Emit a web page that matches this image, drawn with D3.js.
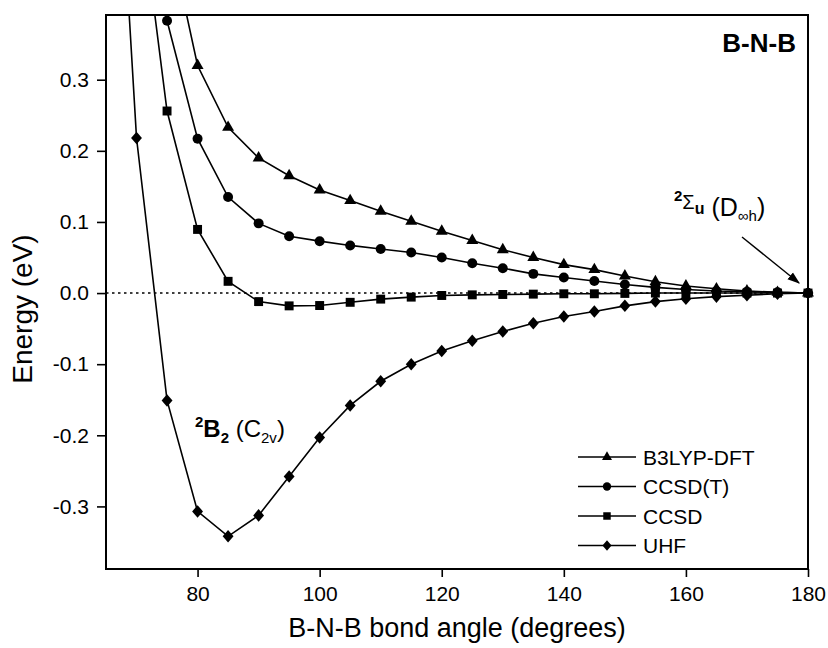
<!DOCTYPE html>
<html lang="en">
<head>
  <meta charset="UTF-8">
  <title>B-N-B bending potential</title>
  <style>
    body { margin: 0; background: #fff; }
    svg text { font-family: "Liberation Sans", Arial, sans-serif; fill: #000; }
    .curve { fill: none; stroke: #000; stroke-width: 1.6; }
  </style>
</head>
<body>
  <svg id="chart"></svg>

  <script src="https://d3js.org/d3.v7.min.js"></script>
  <script>
    // bond angles (degrees)
    const angles = [65, 70, 75, 80, 85, 90, 95, 100, 105, 110, 115, 120, 125, 130,
                    135, 140, 145, 150, 155, 160, 165, 170, 175, 180];

    // energies relative to the linear geometry (eV); null = not computed
    const b3lyp = [null, null, 0.518, 0.320, 0.233, 0.190, 0.165, 0.145, 0.130, 0.115, 0.101, 0.087,
                   0.074, 0.061, 0.050, 0.040, 0.033, 0.024, 0.016, 0.010, 0.006, 0.003, 0.001, 0];
    const ccsdT = [null, null, 0.383, 0.217, 0.135, 0.098, 0.080, 0.073, 0.067, 0.062, 0.057, 0.050,
                   0.042, 0.035, 0.027, 0.022, 0.017, 0.012, 0.008, 0.005, 0.003, 0.002, 0.001, 0];
    const ccsd  = [null, 0.594, 0.256, 0.0895, 0.0165, -0.012, -0.018, -0.0175, -0.013, -0.0085, -0.0057, -0.0034,
                   -0.0025, -0.002, -0.0015, -0.001, -0.001, -0.0005, 0, 0, 0, 0, 0, 0];
    const uhf   = [0.94, 0.218, -0.151, -0.307, -0.342, -0.3126, -0.258, -0.203, -0.158, -0.124, -0.100, -0.0816,
                   -0.067, -0.054, -0.0425, -0.033, -0.026, -0.018, -0.012, -0.008, -0.005, -0.003, -0.001, 0];

    const seriesNames = ["B3LYP-DFT", "CCSD(T)", "CCSD", "UHF"];
    const xTicks = [80, 100, 120, 140, 160, 180];
    const yTicks = [-0.3, -0.2, -0.1, 0.0, 0.1, 0.2, 0.3];

    const W = 828, H = 648;
    const m = { left: 106, top: 15, right: 20, bottom: 79 };
    const iw = W - m.left - m.right, ih = H - m.top - m.bottom;

    const svg = d3.select("#chart").attr("width", W).attr("height", H);
    const g = svg.append("g").attr("transform", `translate(${m.left},${m.top})`);

    const x = d3.scaleLinear().domain([65, 180]).range([0, iw]);
    const y = d3.scaleLinear().domain([-0.388, 0.391]).range([ih, 0]);

    // diamond a bit wider than d3's built-in one
    const diamond = {
      draw(ctx, size) {
        const w = Math.sqrt(size / 2.3), h = w * 1.15;
        ctx.moveTo(0, -h); ctx.lineTo(w, 0); ctx.lineTo(0, h); ctx.lineTo(-w, 0); ctx.closePath();
      }
    };
    const symbols = [
      { type: d3.symbolTriangle, size: 62 },
      { type: d3.symbolCircle, size: 78 },
      { type: d3.symbolSquare, size: 80 },
      { type: diamond, size: 68 }
    ];
    const allSeries = [b3lyp, ccsdT, ccsd, uhf];

    svg.append("clipPath").attr("id", "clip")
      .append("rect").attr("x", -30).attr("y", 0).attr("width", iw + 60).attr("height", ih);

    // zero reference line
    g.append("line")
      .attr("x1", 0).attr("x2", iw).attr("y1", y(0)).attr("y2", y(0))
      .attr("stroke", "#000").attr("stroke-width", 1.6).attr("stroke-dasharray", "2.5,3.5");

    const line = d3.line()
      .defined(d => d[1] !== null)
      .x(d => x(d[0])).y(d => y(d[1]));

    const plot = g.append("g").attr("clip-path", "url(#clip)");
    allSeries.forEach((vals, k) => {
      const pts = angles.map((a, i) => [a, vals[i]]);
      plot.append("path").attr("class", "curve").attr("d", line(pts));
      plot.selectAll(null)
        .data(pts.filter(p => p[1] !== null && p[1] <= y.domain()[1] && p[1] >= y.domain()[0]))
        .enter().append("path")
        .attr("transform", p => `translate(${x(p[0])},${y(p[1])})`)
        .attr("d", d3.symbol().type(symbols[k].type).size(symbols[k].size))
        .attr("fill", "#000");
    });

    // axes
    const xMinor = d3.range(65, 181, 5).filter(v => !xTicks.includes(v));
    const yMinor = d3.range(-38, 39, 2).map(v => v / 100).filter(v => !yTicks.some(t => Math.abs(t - v) < 1e-9));

    const xAxis = g.append("g").attr("transform", `translate(0,${ih})`);
    xAxis.call(d3.axisBottom(x).tickValues(xMinor).tickSize(5).tickFormat(""));
    xAxis.call(d3.axisBottom(x).tickValues(xTicks).tickSize(8).tickPadding(9).tickFormat(d3.format("d")));
    xAxis.selectAll(".domain").remove();
    xAxis.selectAll("line").attr("stroke-width", 1.6);
    xAxis.selectAll("text").style("font-size", "21px");

    const yAxis = g.append("g");
    yAxis.call(d3.axisLeft(y).tickValues(yMinor).tickSize(5).tickFormat(""));
    yAxis.call(d3.axisLeft(y).tickValues(yTicks).tickSize(9).tickPadding(8).tickFormat(d => d.toFixed(1)));
    yAxis.selectAll(".domain").remove();
    yAxis.selectAll("line").attr("stroke-width", 1.6);
    yAxis.selectAll("text").style("font-size", "21px");

    // frame
    g.append("rect").attr("width", iw).attr("height", ih)
      .attr("fill", "none").attr("stroke", "#000").attr("stroke-width", 2);

    // axis titles
    svg.append("text")
      .attr("x", m.left + iw / 2).attr("y", 637)
      .attr("text-anchor", "middle").style("font-size", "27px")
      .text("B-N-B bond angle (degrees)");
    svg.append("text")
      .attr("transform", "translate(32,309) rotate(-90)")
      .attr("text-anchor", "middle").style("font-size", "28px")
      .text("Energy (eV)");

    // panel label
    svg.append("text")
      .attr("x", 796).attr("y", 52).attr("text-anchor", "end")
      .style("font-size", "26px").style("font-weight", "bold")
      .text("B-N-B");

    // legend
    const lg = g.append("g").attr("transform", `translate(${578 - m.left},${457 - m.top})`);
    seriesNames.forEach((name, k) => {
      const row = lg.append("g").attr("transform", `translate(0,${k * 29.5})`);
      row.append("line").attr("x1", 0).attr("x2", 58).attr("stroke", "#000").attr("stroke-width", 1.6);
      row.append("path").attr("transform", "translate(29,0)")
        .attr("d", d3.symbol().type(symbols[k].type).size(symbols[k].size * 0.7));
      row.append("text").attr("x", 65).attr("y", 7.5).style("font-size", "21px").text(name);
    });

    // state annotations
    const a1 = svg.append("text").attr("x", 195).attr("y", 437).style("font-size", "24px");
    a1.append("tspan").attr("dy", -10).style("font-size", "15px").style("font-weight", "bold").text("2");
    a1.append("tspan").attr("dy", 10).style("font-weight", "bold").text("B");
    a1.append("tspan").attr("dy", 6).style("font-size", "15px").style("font-weight", "bold").text("2");
    a1.append("tspan").attr("dy", -6).text(" (C");
    a1.append("tspan").attr("dy", 6).style("font-size", "15px").text("2v");
    a1.append("tspan").attr("dy", -6).text(")");

    const a2 = svg.append("text").attr("x", 674).attr("y", 216).style("font-size", "25px");
    a2.append("tspan").attr("dy", -15).style("font-size", "15px").style("font-weight", "bold").text("2");
    a2.append("tspan").attr("dy", 8).style("font-size", "20px").text("Σ");
    a2.append("tspan").attr("dy", 5).style("font-size", "16px").style("font-weight", "bold").text("u");
    a2.append("tspan").attr("dy", 2).text(" (D");
    a2.append("tspan").attr("dy", 5).style("font-size", "15px").text("∞h");
    a2.append("tspan").attr("dy", -5).text(")");

    svg.append("defs").append("marker")
      .attr("id", "arrow").attr("viewBox", "0 0 10 10").attr("refX", 9).attr("refY", 5)
      .attr("markerWidth", 9).attr("markerHeight", 9).attr("orient", "auto")
      .append("path").attr("d", "M0,1.5 L10,5 L0,8.5 Z").attr("fill", "#000");
    svg.append("line")
      .attr("x1", 742).attr("y1", 237).attr("x2", 799).attr("y2", 283)
      .attr("stroke", "#000").attr("stroke-width", 1.4).attr("marker-end", "url(#arrow)");
  </script>
</body>
</html>
